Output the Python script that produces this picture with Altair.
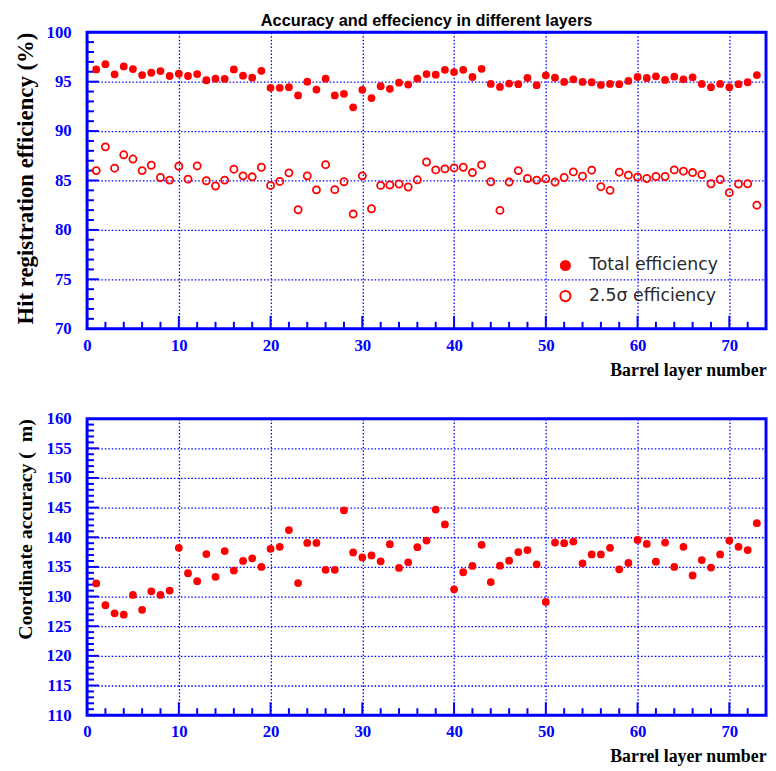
import altair as alt
import pandas as pd

layer_no = list(range(1, 74))
total_eff = [96.24, 96.77, 95.74, 96.54, 96.27, 95.67, 95.90, 96.07, 95.57, 95.80,
             95.57, 95.77, 95.14, 95.30, 95.27, 96.24, 95.60, 95.40, 96.10, 94.37,
             94.37, 94.44, 93.60, 95.00, 94.20, 95.30, 93.60, 93.77, 92.40, 94.17,
             93.34, 94.54, 94.27, 94.90, 94.70, 95.30, 95.77, 95.70, 96.20, 95.97,
             96.20, 95.47, 96.30, 94.77, 94.47, 94.80, 94.74, 95.37, 94.64, 95.64,
             95.40, 94.97, 95.24, 94.97, 94.94, 94.67, 94.77, 94.74, 95.07, 95.47,
             95.37, 95.54, 95.17, 95.50, 95.24, 95.44, 94.77, 94.44, 94.77, 94.44,
             94.74, 94.94, 95.67]
sigma_eff = [86.00, 88.40, 86.24, 87.60, 87.17, 86.00, 86.54, 85.30, 85.04, 86.44,
             85.14, 86.47, 84.97, 84.44, 85.04, 86.14, 85.47, 85.37, 86.34, 84.50,
             84.90, 85.77, 82.04, 85.47, 84.05, 86.60, 84.07, 84.87, 81.60, 85.47,
             82.14, 84.50, 84.54, 84.64, 84.34, 85.07, 86.87, 86.07, 86.17, 86.27,
             86.34, 85.80, 86.57, 84.87, 81.97, 84.84, 86.00, 85.20, 85.04, 85.17,
             84.84, 85.30, 85.87, 85.44, 86.04, 84.37, 84.00, 85.84, 85.54, 85.34,
             85.20, 85.40, 85.40, 86.07, 85.94, 85.80, 85.60, 84.67, 85.10, 83.77,
             84.64, 84.67, 82.50]
accuracy = [132.22, 128.55, 127.17, 126.94, 130.27, 127.77, 130.88, 130.27, 131.00, 138.22,
            133.93, 132.60, 137.16, 133.33, 137.67, 134.38, 136.00, 136.44, 135.00, 138.05,
            138.38, 141.22, 132.27, 139.05, 139.05, 134.50, 134.50, 144.55, 137.44, 136.60,
            136.94, 135.94, 138.83, 134.83, 135.77, 138.33, 139.44, 144.66, 142.16, 131.22,
            134.10, 135.16, 138.72, 132.44, 135.20, 136.05, 137.50, 137.83, 135.44, 129.10,
            139.10, 139.00, 139.27, 135.60, 137.10, 137.10, 138.22, 134.60, 135.66, 139.55,
            138.88, 135.88, 139.10, 135.00, 138.38, 133.55, 136.16, 134.88, 137.10, 139.44,
            138.38, 137.83, 142.38]

x_ticks_major = [10, 20, 30, 40, 50, 60, 70]
x_ticks_minor = [v for v in range(2, 74, 2) if v % 10]
x_labels = [0, 10, 20, 30, 40, 50, 60, 70]
top_y_labels = [70, 75, 80, 85, 90, 95, 100]
bot_y_labels = [110, 115, 120, 125, 130, 135, 140, 145, 150, 155, 160]
legend_labels = ["Total efficiency", "2.5\u03c3 efficiency"]

BLUE = "#0000ff"
RED = "#ff0000"
W, H = 687, 300

xscale = alt.Scale(domain=[0, 74], nice=False, zero=False)
top_yscale = alt.Scale(domain=[70, 100], nice=False, zero=False)
bot_yscale = alt.Scale(domain=[110, 160], nice=False, zero=False)

common = dict(
    grid=True, gridColor=BLUE, gridDash=[1.5, 2], gridWidth=1.3,
    domain=False, ticks=False, tickSize=0,
    labelFont="Liberation Serif", labelFontWeight="bold", labelFontSize=17,
    labelColor=BLUE, labelFlush=False, format="d",
    titleFont="Liberation Serif", titleFontWeight="bold", titleColor="black",
)
xaxis = alt.Axis(values=x_labels, labelPadding=9, title="Barrel layer number",
                 titleFontSize=18, titleAnchor="end", titleAlign="right",
                 titlePadding=8, **common)
top_yaxis = alt.Axis(values=top_y_labels, labelPadding=16,
                     title="Hit registration efficiency (%)", titleFontSize=23,
                     titleAnchor="end", titlePadding=9, **common)
bot_yaxis = alt.Axis(values=bot_y_labels, labelPadding=16,
                     title="Coordinate accuracy ( \u00a0m)", titleFontSize=20,
                     titleAnchor="end", titlePadding=11, **common)


def ticks_layers(ymin, ymax, yscale, yaxis):
    minor_y = pd.DataFrame({"v": [v for v in range(ymin + 1, ymax) if v % 5]})
    major_y = pd.DataFrame({"v": [v for v in range(ymin + 5, ymax, 5)]})
    mx = pd.DataFrame({"v": x_ticks_minor})
    Mx = pd.DataFrame({"v": x_ticks_major})
    ly1 = alt.Chart(minor_y).mark_rule(color=BLUE, strokeWidth=2).encode(
        y=alt.Y("v:Q", scale=yscale, axis=yaxis), x=alt.value(0), x2=alt.value(7))
    ly2 = alt.Chart(major_y).mark_rule(color=BLUE, strokeWidth=2).encode(
        y=alt.Y("v:Q", scale=yscale, axis=yaxis), x=alt.value(0), x2=alt.value(12))
    lx1 = alt.Chart(mx).mark_rule(color=BLUE, strokeWidth=2).encode(
        x=alt.X("v:Q", scale=xscale, axis=xaxis), y=alt.value(H), y2=alt.value(H - 7))
    lx2 = alt.Chart(Mx).mark_rule(color=BLUE, strokeWidth=2).encode(
        x=alt.X("v:Q", scale=xscale, axis=xaxis), y=alt.value(H), y2=alt.value(H - 13))
    frame = alt.Chart(pd.DataFrame({"f": [0]})).mark_rect(
        fillOpacity=0, stroke=BLUE, strokeWidth=3).encode(
        x=alt.value(0), x2=alt.value(W), y=alt.value(0), y2=alt.value(H))
    return [ly1, ly2, lx1, lx2, frame]


top_df = pd.DataFrame({"layer": layer_no, "total": total_eff, "sigma": sigma_eff})
bot_df = pd.DataFrame({"layer": layer_no, "acc": accuracy})

filled = alt.Chart(top_df).mark_point(filled=True, color=RED, size=62, opacity=1).encode(
    x=alt.X("layer:Q", scale=xscale, axis=xaxis),
    y=alt.Y("total:Q", scale=top_yscale, axis=top_yaxis))
hollow = alt.Chart(top_df).mark_point(filled=False, color=RED, size=52, strokeWidth=1.8,
                                      opacity=1).encode(
    x=alt.X("layer:Q", scale=xscale, axis=xaxis),
    y=alt.Y("sigma:Q", scale=top_yscale, axis=top_yaxis))

leg1 = pd.DataFrame({"label": [legend_labels[0]]})
leg2 = pd.DataFrame({"label": [legend_labels[1]]})
leg_font = dict(font="DejaVu Sans", fontSize=17.5, color="#2a2a2a", align="left",
                baseline="middle")
lsym1 = alt.Chart(leg1).mark_point(filled=True, color=RED, size=125, opacity=1).encode(
    x=alt.value(484), y=alt.value(236))
ltxt1 = alt.Chart(leg1).mark_text(**leg_font).encode(
    x=alt.value(508), y=alt.value(236), text="label:N")
lsym2 = alt.Chart(leg2).mark_point(filled=False, color=RED, size=105, strokeWidth=2,
                                   opacity=1).encode(
    x=alt.value(484), y=alt.value(267))
ltxt2 = alt.Chart(leg2).mark_text(**leg_font).encode(
    x=alt.value(508), y=alt.value(267), text="label:N")

top = alt.layer(
    *ticks_layers(70, 100, top_yscale, top_yaxis), filled, hollow,
    lsym1, ltxt1, lsym2, ltxt2
).properties(
    width=W, height=H,
    title=alt.TitleParams("Accuracy and effeciency in different layers",
                          font="Liberation Sans", fontSize=16.5, fontWeight="bold",
                          anchor="middle", color="black", offset=-6.5))

acc_pts = alt.Chart(bot_df).mark_point(filled=True, color=RED, size=62, opacity=1).encode(
    x=alt.X("layer:Q", scale=xscale, axis=xaxis),
    y=alt.Y("acc:Q", scale=bot_yscale, axis=bot_yaxis))

bottom = alt.layer(
    *ticks_layers(110, 160, bot_yscale, bot_yaxis), acc_pts
).properties(width=W, height=H)

chart = alt.vconcat(top, bottom, spacing=29).configure_view(
    stroke=None
).configure(padding={"left": 5, "top": 0, "right": 0, "bottom": 0})

chart.save("out.html", embed_options={"renderer": "svg", "actions": False})
